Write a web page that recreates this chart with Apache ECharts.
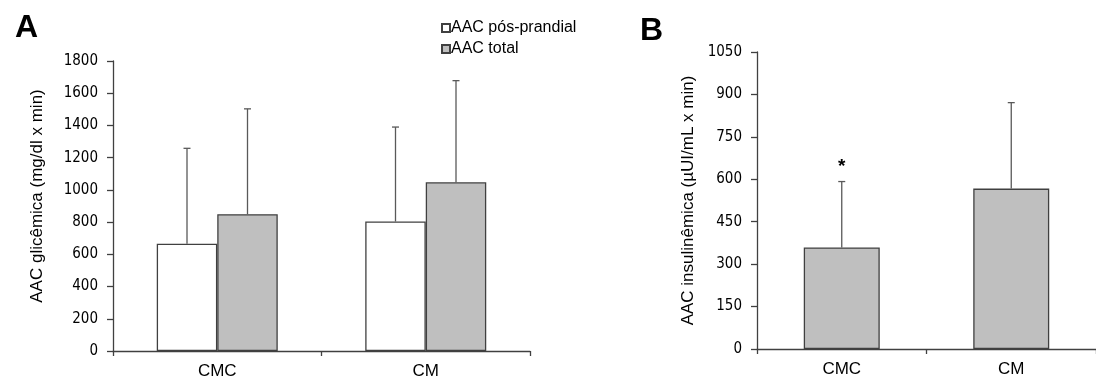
<!DOCTYPE html>
<html>
<head>
<meta charset="utf-8">
<script src="https://cdn.jsdelivr.net/npm/echarts@6/dist/echarts.min.js"></script>
<style>
  html, body { margin: 0; padding: 0; background: #fff; }
  #chart { width: 1096px; height: 380px; }
</style>
</head>
<body>
<div id="chart"></div>
<script>
// dados
const categorias = ['CMC', 'CM'];
// painel A: AAC glicêmica
const posPrandial = [666, 804];
const posPrandialDP = [592, 586];
const glicTotal = [849, 1047];
const glicTotalDP = [654, 631];
// painel B: AAC insulinêmica
const insulina = [359, 567];
const insulinaDP = [233, 304];
const signif = ['*', ''];
const ticksA = { min: 0, max: 1800, interval: 200 };
const ticksB = { min: 0, max: 1050, interval: 150 };

const eixoCor = '#404040';
const cinza = '#bfbfbf';
const tickFont = '"DejaVu Sans Condensed", "DejaVu Sans", sans-serif';
const labelFont = 'Arial, "Liberation Sans", sans-serif';

// barra de erro só para cima, com "chapéu"
function errorBar(means, sds, offset, marks) {
  return function (params, api) {
    const i = params.dataIndex;
    const base = api.coord([i, means[i]]);
    const top = api.coord([i, means[i] + sds[i]]);
    const x = base[0] + offset;
    const children = [
      { type: 'line', shape: { x1: x, y1: base[1], x2: x, y2: top[1] },
        style: { stroke: '#595959', lineWidth: 1.3 } },
      { type: 'line', shape: { x1: x - 3.5, y1: top[1], x2: x + 3.5, y2: top[1] },
        style: { stroke: '#595959', lineWidth: 1.3 } }
    ];
    if (marks && marks[i]) {
      children.push({ type: 'text', style: { text: marks[i], x: x, y: top[1] - 15,
        align: 'center', verticalAlign: 'middle', font: 'bold 19px ' + labelFont, fill: '#000' } });
    }
    return { type: 'group', children: children };
  };
}

function eixoX(gridIndex) {
  return {
    type: 'category', gridIndex: gridIndex, data: categorias,
    axisLine: { lineStyle: { color: eixoCor, width: 1.3 } },
    axisTick: { show: true, length: 5, lineStyle: { color: eixoCor, width: 1.3 } },
    axisLabel: { color: '#000', fontFamily: labelFont, fontSize: 17, margin: 12 }
  };
}

function eixoY(gridIndex, t, nome, gap, shift) {
  return {
    type: 'value', gridIndex: gridIndex, min: t.min, max: t.max, interval: t.interval,
    name: nome, nameLocation: 'middle', nameGap: gap,
    nameTextStyle: { fontFamily: labelFont, fontSize: 17, color: '#000', padding: [0, 0, 0, shift] },
    splitLine: { show: false },
    axisLine: { show: true, lineStyle: { color: eixoCor, width: 1.3 } },
    axisTick: { show: true, length: 6, lineStyle: { color: eixoCor, width: 1.3 } },
    axisLabel: { color: '#000', fontFamily: tickFont, fontSize: 15, margin: 15,
      formatter: function (v) { return String(v); } }
  };
}

const larguraA = 60.5;
const larguraB = 76;

const option = {
  animation: false,
  backgroundColor: '#fff',
  title: [
    { text: 'A', left: 10, top: 7, textStyle: { fontFamily: labelFont, fontSize: 32, fontWeight: 'bold', color: '#000' } },
    { text: 'B', left: 635, top: 10, textStyle: { fontFamily: labelFont, fontSize: 32, fontWeight: 'bold', color: '#000' } }
  ],
  legend: {
    left: 436, top: 15, orient: 'vertical', itemWidth: 8, itemHeight: 8, itemGap: 5,
    icon: 'rect',
    data: ['AAC pós-prandial', 'AAC total'],
    textStyle: { fontFamily: labelFont, fontSize: 16, color: '#000', padding: [0, 0, 0, -4] }
  },
  grid: [
    { left: 113, right: 566, top: 61, bottom: 28 },
    { left: 757, right: -9, top: 52, bottom: 31 }
  ],
  xAxis: [eixoX(0), eixoX(1)],
  yAxis: [
    eixoY(0, ticksA, 'AAC glicêmica (mg/dl x min)', 67, 20),
    eixoY(1, ticksB, 'AAC insulinêmica (µUI/mL x min)', 60, 0)
  ],
  series: [
    { name: 'AAC pós-prandial', type: 'bar', xAxisIndex: 0, yAxisIndex: 0, data: posPrandial,
      barWidth: larguraA, barGap: '0%',
      itemStyle: { color: '#fff', borderColor: eixoCor, borderWidth: 1.3 } },
    { name: 'AAC total', type: 'bar', xAxisIndex: 0, yAxisIndex: 0, data: glicTotal,
      barWidth: larguraA, barGap: '0%',
      itemStyle: { color: cinza, borderColor: eixoCor, borderWidth: 1.3 } },
    { type: 'custom', xAxisIndex: 0, yAxisIndex: 0, data: posPrandial, z: 1,
      renderItem: errorBar(posPrandial, posPrandialDP, -larguraA / 2) },
    { type: 'custom', xAxisIndex: 0, yAxisIndex: 0, data: glicTotal, z: 1,
      renderItem: errorBar(glicTotal, glicTotalDP, larguraA / 2) },
    { name: 'insulina', type: 'bar', xAxisIndex: 1, yAxisIndex: 1, data: insulina,
      barWidth: larguraB,
      itemStyle: { color: cinza, borderColor: eixoCor, borderWidth: 1.3 } },
    { type: 'custom', xAxisIndex: 1, yAxisIndex: 1, data: insulina, z: 1,
      renderItem: errorBar(insulina, insulinaDP, 0, signif) }
  ]
};

const chart = echarts.init(document.getElementById('chart'), null, { renderer: 'canvas' });
chart.setOption(option);
</script>
</body>
</html>
